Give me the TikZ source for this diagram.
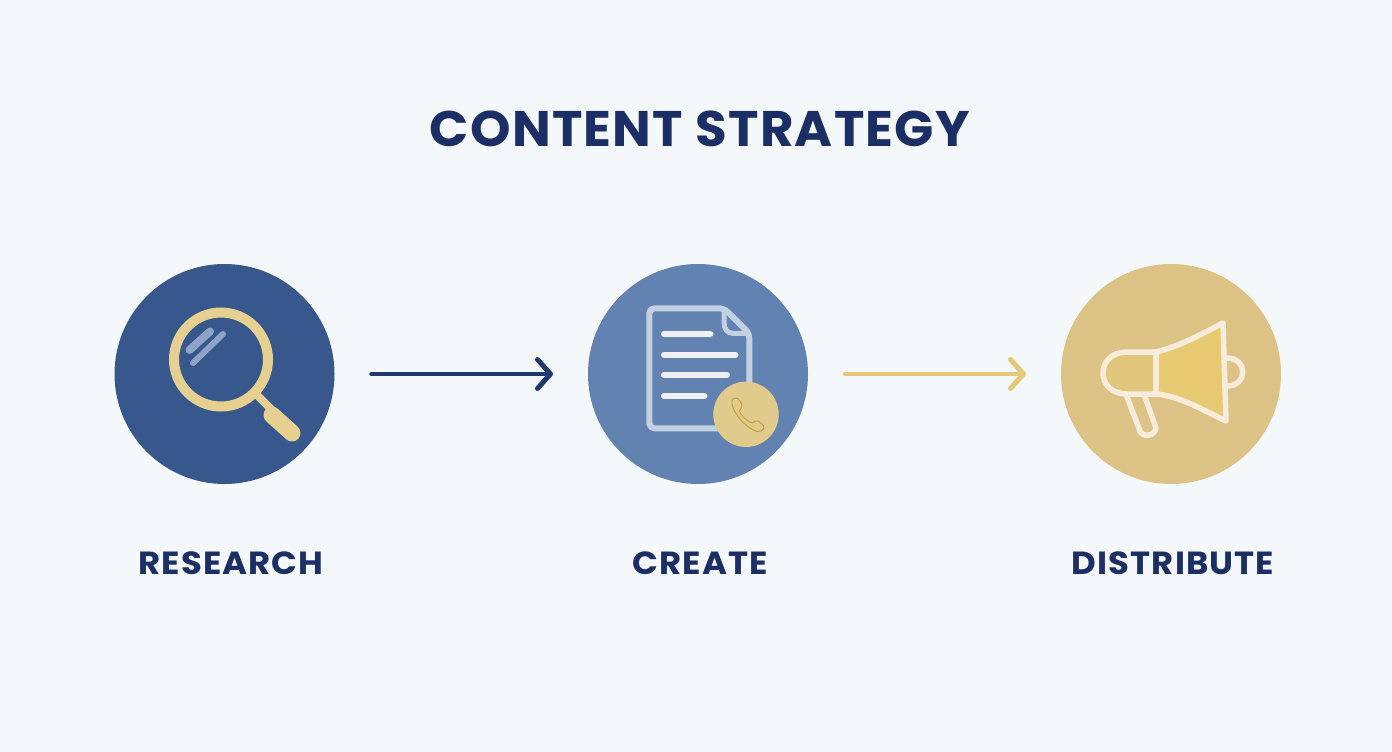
\documentclass[tikz,border=0pt]{standalone}
\usepackage{fontspec}
\setmainfont{Poppins}
\newfontfamily\titlefont[FakeStretch=1.03,LetterSpace=2.5]{Poppins}
\newfontfamily\labelfont[FakeStretch=1.06,LetterSpace=3.5]{Poppins}
\usetikzlibrary{arrows.meta}
\definecolor{bgc}{HTML}{F5F8FA}
\definecolor{navy}{HTML}{1B2F66}
\definecolor{cdark}{HTML}{38578D}
\definecolor{cmid}{HTML}{6282B1}
\definecolor{cgold}{HTML}{DCC284}
\definecolor{gold}{HTML}{E6D08F}
\definecolor{arrowdark}{HTML}{1E3A6E}
\definecolor{arrowgold}{HTML}{E5C877}
\definecolor{glass}{HTML}{8FA3C6}
\definecolor{pageline}{HTML}{C3D0E2}
\definecolor{textline}{HTML}{EEF0F4}
\definecolor{badge}{HTML}{E0CB8D}
\definecolor{phoneline}{HTML}{C49F3E}
\definecolor{cream}{HTML}{F7ECDC}
\definecolor{hornfill}{HTML}{E6C971}
\tikzset{
  disc/.style={circle,minimum size=220pt,inner sep=0pt,outer sep=0pt,fill=#1},
  steplabel/.style={text=navy,font=\labelfont\fontsize{32}{32}\selectfont\bfseries,anchor=base,inner sep=0pt},
  flow/.style={line width=4.5pt,line cap=round,shorten <=37pt,shorten >=35pt,-{Straight Barb[length=13pt,width=29pt,line width=5pt,round]},#1},
  megaline/.style={draw=cream,line width=5.5pt,line join=round,line cap=round},
}
\begin{document}
\begin{tikzpicture}[x=1pt,y=-1pt]
\useasboundingbox (0,0) rectangle (1392,752);
\fill[bgc] (0,0) rectangle (1392,752);
\node[text=navy,font=\titlefont\fontsize{50}{50}\selectfont\bfseries,anchor=base,inner sep=0pt] (title) at (700,146) {CONTENT STRATEGY};
\node[disc=cdark] (research) at (224.5,374) {};
\node[disc=cmid] (create) at (698,374) {};
\node[disc=cgold] (distribute) at (1171,374) {};
\draw[flow=arrowdark] (research.east) -- (create.west);
\draw[flow=arrowgold] (create.east) -- (distribute.west);
\node[steplabel] (l1) at (231,574) {RESEARCH};
\node[steplabel] (l2) at (700,574) {CREATE};
\node[steplabel] (l3) at (1173,574) {DISTRIBUTE};
% magnifier
\draw[gold,line width=8pt] (256,394) -- (272,410);
\draw[gold,line width=17pt,line cap=round] (272,415) -- (292,433);
\draw[gold,line width=10pt] (221,359.5) circle (47);
\draw[glass,line width=8pt,line cap=round] (189.5,350) -- (210,331.5);
\draw[glass,line width=6pt,line cap=round] (193,363) -- (223,334);
% document
\draw[pageline,line width=6pt,line join=round,rounded corners=5pt] (724,308.3) -- (649.3,308.3) -- (649.3,428.3) -- (749.3,428.3) -- (749.3,333.3) -- cycle;
\draw[pageline,line width=5pt,line join=round] (724,308.3) -- (724,322) .. controls (724,329) and (727,333.3) .. (733,333.3) -- (749.3,333.3);
\foreach \yy/\xx in {334/710.5,354.7/735.5,375/727,396/704.5}
  \draw[textline,line width=6pt,line cap=round] (664,\yy) -- (\xx,\yy);
\fill[badge] (746,414.3) circle (32.7);
% phone
\draw[phoneline,line width=1pt,line join=round] (733,399) .. controls (736,397) and (738,398) .. (740,401) .. controls (742,404) and (743,407) .. (741,408.5) .. controls (739,410) and (739,411) .. (741,414) .. controls (744,418) and (748,422) .. (752,423) .. controls (754,422) and (756,420) .. (758,421) .. controls (761,423) and (764,425) .. (764,428) .. controls (763,431) and (760,432) .. (757,431.5) .. controls (749,429) and (739,420) .. (734,410) .. controls (732,406) and (731,401) .. (733,399) -- cycle;
% megaphone
\draw[megaline] (1227,358) .. controls (1248,358) and (1248,386) .. (1227,386);
\draw[megaline] (1127,397) -- (1140,431) .. controls (1143,438) and (1155,436) .. (1156,428) -- (1145,397);
\draw[megaline,fill=cgold!50!hornfill] (1156,352) -- (1127,352) .. controls (1095,352) and (1095,394) .. (1127,394) -- (1156,394) -- cycle;
\draw[megaline,fill=hornfill] (1156,352) .. controls (1180,346) and (1200,335) .. (1223,323) -- (1226,421) .. controls (1205,411) and (1180,396) .. (1156,394) -- cycle;
\end{tikzpicture}
\end{document}
